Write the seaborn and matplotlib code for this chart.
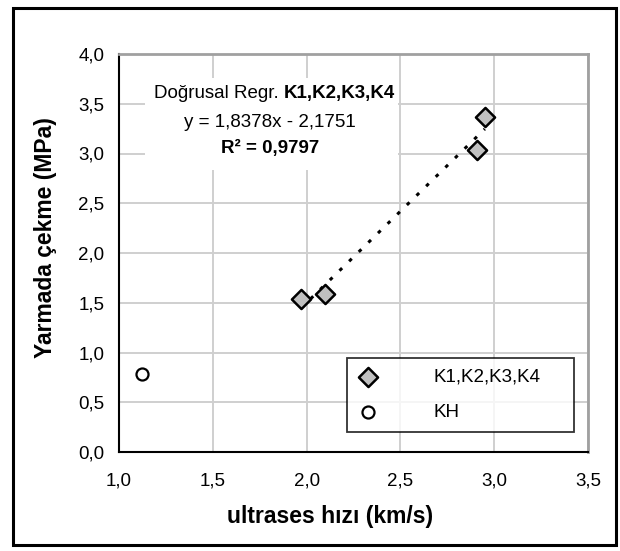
import matplotlib
matplotlib.use("Agg")
import matplotlib.pyplot as plt
import seaborn as sns
import numpy as np
import pandas as pd
from matplotlib.patches import Rectangle

# ---- data ----
k_x = [1.97, 2.10, 2.91, 2.95]
k_y = [1.54, 1.59, 3.04, 3.37]
kh_x = [1.12]
kh_y = [0.78]
slope = 1.8378
intercept = -2.1751
x_ticks = [1.0, 1.5, 2.0, 2.5, 3.0, 3.5]
x_labels = ["1,0", "1,5", "2,0", "2,5", "3,0", "3,5"]
y_ticks = [0.0, 0.5, 1.0, 1.5, 2.0, 2.5, 3.0, 3.5, 4.0]
y_labels = ["0,0", "0,5", "1,0", "1,5", "2,0", "2,5", "3,0", "3,5", "4,0"]
series_k = "K1,K2,K3,K4"
series_kh = "KH"

sns.set_style("white")
plt.rcParams["font.family"] = ["Liberation Sans", "DejaVu Sans"]
plt.rcParams["text.color"] = "black"
plt.rcParams["axes.labelcolor"] = "black"

FS = 13.5
LFS = 16.5

fig = plt.figure(figsize=(6.2, 5.51), dpi=100)
ax = fig.add_axes([119/620, 1-452/551, (588-119)/620, (452-54)/551])

df_k = pd.DataFrame({"x": k_x, "y": k_y})
df_kh = pd.DataFrame({"x": kh_x, "y": kh_y})

ax.set_xlim(1.0, 3.5)
ax.set_ylim(0.0, 4.0)

ax.set_axisbelow(True)
ax.grid(True, color="#cfcfcf", linewidth=1.4)

# white box behind regression text
ax.add_patch(Rectangle((1.139, 2.834), 2.487-1.139, 3.759-2.834,
                       facecolor="white", edgecolor="none", zorder=1))

# regression line over the data range
xs = np.array([min(k_x), max(k_x)])
ax.plot(xs, slope*xs + intercept, color="black", linewidth=2.2,
        linestyle=(0, (1.2, 3.2)), zorder=2)

sns.scatterplot(data=df_k, x="x", y="y", ax=ax, marker="D", s=95,
                color="#c0c0c0", edgecolor="black", linewidth=1.8,
                label=series_k, zorder=3)
sns.scatterplot(data=df_kh, x="x", y="y", ax=ax, marker="o", s=75,
                color="white", edgecolor="black", linewidth=1.6,
                label=series_kh, zorder=3)

ax.set_xticks(x_ticks)
ax.set_xticklabels(x_labels)
ax.set_yticks(y_ticks)
ax.set_yticklabels(y_labels)
ax.tick_params(axis="both", labelsize=FS, colors="black", labelcolor="black",
               direction="out", length=4.5, width=1.2)
ax.tick_params(axis="y", pad=6)
ax.tick_params(axis="x", pad=10)

for s in ["left", "bottom"]:
    ax.spines[s].set_color("black")
    ax.spines[s].set_linewidth(1.5)
for s in ["top", "right"]:
    ax.spines[s].set_color("#a0a0a0")
    ax.spines[s].set_linewidth(2.0)

ax.set_xlabel("ultrases hızı (km/s)", fontsize=LFS, fontweight="bold")
ax.set_ylabel("Yarmada çekme (MPa)", fontsize=LFS, fontweight="bold")
ax.xaxis.set_label_coords((330-119)/469, -(505-452)/398)
ax.yaxis.set_label_coords(-(119-57)/469, (452-238)/398)

# regression annotation
t1 = ax.text(1.187, 3.558, "Doğrusal Regr. ", fontsize=FS, va="baseline", ha="left", zorder=4)
ax.annotate(series_k, xycoords=t1, xy=(1, 0), va="bottom", ha="left",
            fontsize=FS, fontweight="bold", zorder=4)
ax.text(1.805, 3.271, "y = 1,8378x - 2,1751", fontsize=FS, va="baseline", ha="center", zorder=4)
ax.text(1.805, 3.005, "R² = 0,9797", fontsize=FS, fontweight="bold", va="baseline",
        ha="center", zorder=4)

leg = ax.legend(loc="lower left", bbox_to_anchor=(0.486, 0.05, 0.484, 0.189),
                mode="expand", fontsize=FS, frameon=True, fancybox=False,
                borderaxespad=0, handlelength=1.0, handletextpad=3.0,
                labelspacing=0.95, borderpad=0.6)
leg.get_frame().set_edgecolor("black")
leg.get_frame().set_linewidth(1.3)

fig.patches.append(Rectangle((13/620, 6/551), (616-13)/620, (543-6)/551,
                             transform=fig.transFigure, fill=False,
                             edgecolor="black", linewidth=2.2))

fig.savefig("out.png", dpi=100)
